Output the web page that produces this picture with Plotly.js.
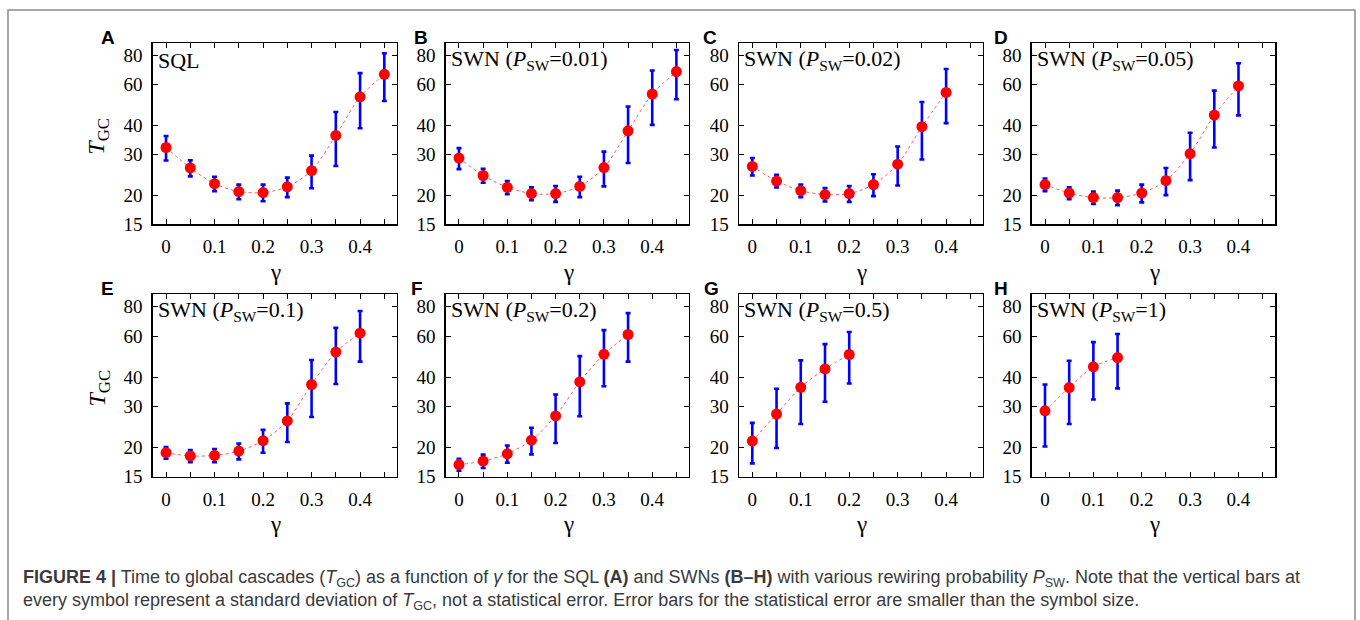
<!DOCTYPE html>
<html>
<head>
<meta charset="utf-8">
<script src="https://cdn.plot.ly/plotly-3.0.1.min.js"></script>
<style>html,body{margin:0;padding:0;background:#fff;}#chart{width:1360px;height:620px;}</style>
</head>
<body>
<div id="chart"></div>
<script>
// ---- data ----
const gamma = [0, 0.05, 0.1, 0.15, 0.2, 0.25, 0.3, 0.35, 0.4, 0.45];
const panelLetters = ['A','B','C','D','E','F','G','H'];
const panelLabels = ['SQL',
  'SWN (<i>P</i><sub>SW</sub>=0.01)', 'SWN (<i>P</i><sub>SW</sub>=0.02)', 'SWN (<i>P</i><sub>SW</sub>=0.05)',
  'SWN (<i>P</i><sub>SW</sub>=0.1)', 'SWN (<i>P</i><sub>SW</sub>=0.2)', 'SWN (<i>P</i><sub>SW</sub>=0.5)',
  'SWN (<i>P</i><sub>SW</sub>=1)'];

const tA = [32.1, 26.2, 22.4, 20.7, 20.5, 21.7, 25.5, 36.2, 53.1, 66.5];
const sA = [3.9, 2.1, 1.6, 1.5, 1.7, 2.1, 4.1, 9.5, 14.2, 15.5];
const tB = [28.9, 24.3, 21.6, 20.3, 20.3, 21.8, 26.3, 37.9, 54.6, 68.3];
const sB = [3.0, 1.7, 1.4, 1.3, 1.6, 2.2, 4.5, 10.4, 14.4, 16.4];
const tC = [26.6, 23.0, 20.9, 20.1, 20.3, 22.2, 27.2, 39.5, 55.5];
const sC = [2.3, 1.45, 1.3, 1.35, 1.6, 2.4, 5.2, 11.0, 14.6];
const tD = [22.2, 20.4, 19.5, 19.5, 20.4, 23.1, 30.2, 44.3, 59.2];
const sD = [1.4, 1.2, 1.2, 1.4, 1.8, 3.1, 7.0, 12.2, 15.0];
const tE = [19.0, 18.4, 18.5, 19.3, 21.4, 26.0, 37.2, 51.2, 61.7];
const sE = [1.1, 1.1, 1.2, 1.5, 2.4, 4.9, 10.2, 13.8, 15.1];
const tF = [16.9, 17.5, 18.8, 21.5, 27.3, 38.2, 50.1, 60.9];
const sF = [1.0, 1.15, 1.6, 2.8, 6.4, 11.0, 13.5, 14.3];
const tG = [21.3, 27.8, 36.2, 43.4, 50.0];
const sG = [4.2, 7.9, 11.0, 12.0, 12.4];
const tH = [28.7, 36.1, 44.3, 48.5];
const sH = [8.5, 10.9, 12.2, 12.7];

const xTickVals = [0, 0.1, 0.2, 0.3, 0.4];
const xTickText = ['0', '0.1', '0.2', '0.3', '0.4'];
const yTickVals = [15, 20, 30, 40, 60, 80];

const yValues = [tA, tB, tC, tD, tE, tF, tG, tH];
const yErrors = [sA, sB, sC, sD, sE, sF, sG, sH];

// ---- layout geometry (pixels) ----
const W = 1360, H = 620;
const colPx = [[152.7, 396.7], [445.7, 688.7], [739, 982.7], [1031.7, 1275]];
const rowPx = [[43.3, 224], [294.3, 476.7]];
const letterPx = [[100, 29], [413, 29], [701.7, 29], [993, 29], [100, 280], [410, 280], [702.7, 280], [992.7, 280]];
const px = x => x / W;
const py = y => 1 - y / H;

const serif = 'Liberation Serif, Times New Roman, serif';
const traces = [];
const layout = {
  width: W, height: H,
  margin: {l: 0, r: 0, t: 0, b: 0},
  paper_bgcolor: '#fff', plot_bgcolor: '#fff',
  showlegend: false,
  annotations: [], shapes: []
};

for (let i = 0; i < 8; i++) {
  const r = Math.floor(i / 4), c = i % 4;
  const n = i === 0 ? '' : String(i + 1);
  const xa = 'xaxis' + n, ya = 'yaxis' + n;
  const xs = gamma.slice(0, yValues[i].length);
  traces.push({
    x: xs, y: yValues[i], xaxis: 'x' + n, yaxis: 'y' + n,
    type: 'scatter', mode: 'lines+markers',
    line: {color: '#ff5a5a', width: 1, dash: 'dot', shape: 'spline', smoothing: 0.8},
    marker: {color: '#ff0000', size: 11},
    error_y: {type: 'data', array: yErrors[i], visible: true, color: '#0000ff', thickness: 2.6, width: 2.5},
    hoverinfo: 'skip'
  });
  layout[xa] = {
    domain: [px(colPx[c][0]), px(colPx[c][1])],
    anchor: 'y' + n,
    range: [-0.0275, 0.4755],
    tickvals: xTickVals, ticktext: xTickText,
    ticks: 'inside', ticklen: 5, tickwidth: 1, tickcolor: '#000',
    minor: {dtick: 0.05, tick0: 0, ticks: 'inside', ticklen: 5, tickwidth: 1, tickcolor: '#000'},
    showline: true, linecolor: '#000', linewidth: 1.5, mirror: 'allticks',
    showgrid: false, zeroline: false,
    tickfont: {family: serif, size: 19, color: '#000'},
    ticklabelstandoff: 5,
    fixedrange: true
  };
  layout[ya] = {
    domain: [py(rowPx[r][1]), py(rowPx[r][0])],
    anchor: 'x' + n,
    type: 'log',
    range: [Math.log10(15), Math.log10(90.5)],
    tickvals: yTickVals, ticktext: yTickVals.map(String),
    ticks: 'inside', ticklen: 5, tickwidth: 1, tickcolor: '#000',
    showline: true, linecolor: '#000', linewidth: 1.5, mirror: 'allticks',
    showgrid: false, zeroline: false,
    tickfont: {family: serif, size: 19, color: '#000'},
    ticklabelstandoff: 5,
    fixedrange: true
  };
  // panel letter
  layout.annotations.push({
    text: panelLetters[i], xref: 'paper', yref: 'paper',
    x: px(letterPx[i][0] - 1), y: py(letterPx[i][1] - 4), xanchor: 'left', yanchor: 'top',
    showarrow: false, font: {family: 'Liberation Sans, Arial, sans-serif', size: 19, color: '#000', weight: 'bold'}
  });
  // panel label inside
  layout.annotations.push({
    text: panelLabels[i], xref: 'paper', yref: 'paper',
    x: px(colPx[c][0] + 3), y: py(rowPx[r][0] + 17), xanchor: 'left', yanchor: 'middle',
    showarrow: false, font: {family: serif, size: 22, color: '#000'}
  });
  // gamma label
  layout.annotations.push({
    text: 'γ', xref: 'paper', yref: 'paper',
    x: px((colPx[c][0] + colPx[c][1]) / 2 + 1), y: py(rowPx[r][1] + 48), xanchor: 'center', yanchor: 'middle',
    showarrow: false, font: {family: serif, size: 23, color: '#000'}
  });
  if (c === 0) {
    layout.annotations.push({
      text: '<i>T</i><sub>GC</sub>', xref: 'paper', yref: 'paper',
      x: px(98), y: py((rowPx[r][0] + rowPx[r][1]) / 2 + 2), xanchor: 'center', yanchor: 'middle',
      textangle: -90, showarrow: false, font: {family: serif, size: 24, color: '#000'}
    });
  }
}

// caption
const capFont = {family: 'Liberation Sans, Arial, sans-serif', size: 18, color: '#3a3a3a'};
layout.annotations.push({
  text: '<b>FIGURE 4 |</b> Time to global cascades (<i>T</i><sub>GC</sub>) as a function of <i>γ</i> for the SQL <b>(A)</b> and SWNs <b>(B–H)</b> with various rewiring probability <i>P</i><sub>SW</sub>. Note that the vertical bars at',
  xref: 'paper', yref: 'paper', x: px(21), y: py(578), xanchor: 'left', yanchor: 'middle',
  showarrow: false, font: capFont
});
layout.annotations.push({
  text: 'every symbol represent a standard deviation of <i>T</i><sub>GC</sub>, not a statistical error. Error bars for the statistical error are smaller than the symbol size.',
  xref: 'paper', yref: 'paper', x: px(21), y: py(601), xanchor: 'left', yanchor: 'middle',
  showarrow: false, font: capFont
});
// outer frame
layout.shapes.push({
  type: 'rect', xref: 'paper', yref: 'paper',
  x0: px(8), x1: px(1355), y0: py(640), y1: py(10),
  line: {color: '#8a8a8a', width: 1.5}, fillcolor: 'rgba(0,0,0,0)'
});

Plotly.newPlot('chart', traces, layout, {displayModeBar: false, staticPlot: true});
</script>
</body>
</html>
